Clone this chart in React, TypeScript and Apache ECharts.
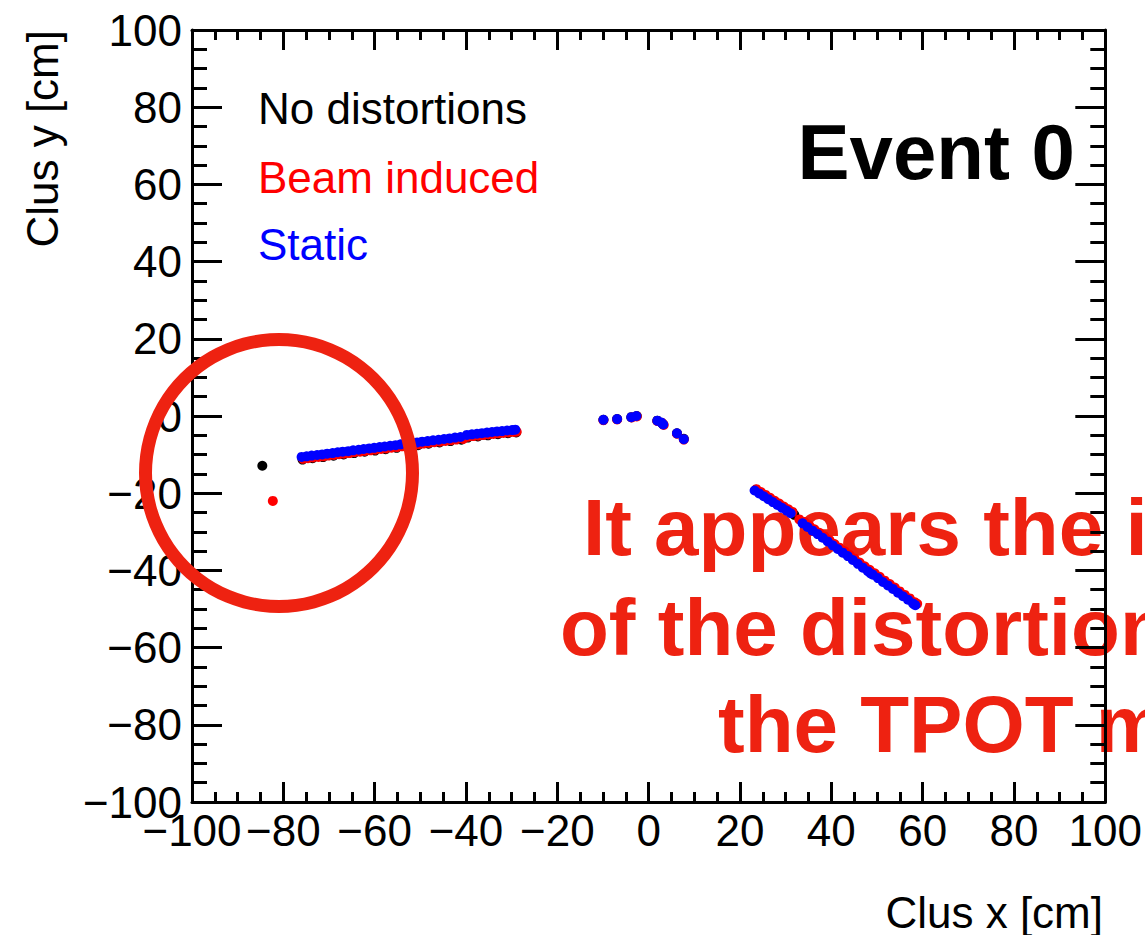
import React, { useEffect, useRef } from "react";
import * as echarts from "echarts";

// ---------------- data ----------------
const X_MIN = -100;
const X_MAX = 100;
const Y_MIN = -100;
const Y_MAX = 100;
const MAJOR_STEP = 20;

const X_TITLE = "Clus x [cm]";
const Y_TITLE = "Clus y [cm]";
const LEGEND_LABELS = ["No distortions", "Beam induced", "Static"];
const SERIES_COLORS = ["#000000", "#ff0000", "#0000ff"];
const EVENT_LABEL = "Event 0";
const NOTE_LINES = ["It appears the i", "of the distortion", "the TPOT m"];

// No distortions (black)
const noDistortions: number[][] = [
  [-84.6, -12.9],
  [-75.8, -11.3], [-73.6, -10.95], [-71.3, -10.65], [-69.0, -10.3], [-66.8, -9.95],
  [-64.5, -9.6], [-62.2, -9.25], [-59.9, -8.95], [-57.6, -8.6], [-55.2, -8.25],
  [-52.9, -7.9], [-50.5, -7.55], [-48.2, -7.2], [-45.8, -6.85], [-43.4, -6.5],
  [-41.0, -6.15], [-39.6, -5.6], [-37.4, -5.3], [-35.2, -5.0], [-33.0, -4.7],
  [-30.8, -4.45], [-29.0, -4.25],
  [-9.9, -1.0], [-6.9, -0.8], [-3.8, -0.3], [-2.6, 0.0], [1.9, -1.2], [3.1, -2.1],
  [6.2, -4.5], [7.7, -5.9],
  [23.5, -19.1], [25.5, -20.6], [27.5, -22.1], [29.5, -23.6], [31.5, -25.0],
  [31.9, -25.6], [34.0, -27.6], [36.2, -29.5], [38.4, -31.35], [40.6, -33.3],
  [42.8, -35.2], [45.0, -37.1], [47.2, -39.1], [49.4, -40.9], [51.6, -42.8],
  [53.8, -44.6], [56.0, -46.5], [58.2, -48.4],
];

// Beam induced (red)
const beamInduced: number[][] = [
  [-82.3, -22.0],
  [-75.7, -11.1], [-74.6, -10.95], [-73.5, -10.75], [-72.3, -10.6], [-71.2, -10.45],
  [-70.1, -10.25], [-68.9, -10.1], [-67.8, -9.9], [-66.7, -9.75], [-65.5, -9.6],
  [-64.4, -9.4], [-63.2, -9.25], [-62.1, -9.05], [-60.9, -8.9], [-59.8, -8.75],
  [-58.6, -8.55], [-57.5, -8.4], [-56.3, -8.2], [-55.1, -8.05], [-54.0, -7.85],
  [-52.8, -7.7], [-51.6, -7.5], [-50.4, -7.35], [-49.3, -7.15], [-48.1, -7.0],
  [-46.9, -6.8], [-45.7, -6.65], [-44.5, -6.45], [-43.3, -6.3], [-42.1, -6.1],
  [-40.6, -5.95],
  [-39.5, -5.35], [-38.4, -5.2], [-37.3, -5.1], [-36.2, -4.95], [-35.1, -4.8],
  [-34.0, -4.65], [-32.9, -4.5], [-31.8, -4.4], [-30.7, -4.25], [-29.6, -4.15],
  [-28.9, -4.05],
  [-9.9, -1.1], [-6.9, -0.9], [-3.7, -0.4], [-2.6, -0.1], [1.9, -1.3], [2.9, -1.8],
  [3.3, -2.3], [6.2, -4.6], [7.7, -6.1],
  [23.6, -18.95], [24.6, -19.7], [25.6, -20.45], [26.6, -21.2], [27.6, -21.95],
  [28.6, -22.7], [29.6, -23.45], [30.6, -24.15], [31.5, -24.85], [33.0, -26.8],
  [34.1, -27.45], [35.2, -28.4], [36.3, -29.35], [37.4, -30.25], [38.5, -31.2],
  [39.6, -32.15], [40.7, -33.15], [41.8, -34.1], [42.9, -35.05], [44.0, -35.95],
  [45.1, -36.95], [46.2, -37.95], [47.3, -38.95], [48.4, -39.85], [49.5, -40.75],
  [50.6, -41.65], [51.7, -42.65], [52.8, -43.55], [53.9, -44.45], [55.0, -45.45],
  [56.1, -46.35], [57.2, -47.25], [58.3, -48.25], [58.8, -48.65],
];

// Static (blue)
const staticDist: number[][] = [
  [-76.0, -10.6], [-74.9, -10.45], [-73.8, -10.25], [-72.6, -10.1], [-71.5, -9.95],
  [-70.4, -9.75], [-69.2, -9.6], [-68.1, -9.4], [-67.0, -9.25], [-65.8, -9.1],
  [-64.7, -8.9], [-63.5, -8.75], [-62.4, -8.55], [-61.2, -8.4], [-60.1, -8.25],
  [-58.9, -8.05], [-57.8, -7.9], [-56.6, -7.7], [-55.4, -7.55], [-54.3, -7.35],
  [-53.1, -7.2], [-51.9, -7.0], [-50.7, -6.85], [-49.6, -6.65], [-48.4, -6.5],
  [-47.2, -6.3], [-46.0, -6.15], [-44.8, -5.95], [-43.6, -5.8], [-42.4, -5.6],
  [-41.2, -5.45],
  [-39.8, -4.9], [-38.7, -4.75], [-37.6, -4.6], [-36.5, -4.45], [-35.4, -4.3],
  [-34.3, -4.15], [-33.2, -4.0], [-32.1, -3.9], [-31.0, -3.75], [-29.9, -3.65],
  [-29.2, -3.55],
  [-9.9, -1.0], [-6.9, -0.8], [-3.8, -0.3], [-2.7, 0.0], [1.9, -1.2], [2.8, -1.7],
  [3.2, -2.2], [6.2, -4.5], [7.7, -6.0],
  [23.2, -19.3], [24.2, -20.05], [25.2, -20.8], [26.2, -21.55], [27.2, -22.3],
  [28.2, -23.05], [29.2, -23.8], [30.2, -24.5], [31.1, -25.2],
  [33.7, -27.8], [34.8, -28.75], [35.9, -29.7], [37.0, -30.6], [38.1, -31.55],
  [39.2, -32.5], [40.3, -33.5], [41.4, -34.45], [42.5, -35.4], [43.6, -36.3],
  [44.7, -37.3], [45.8, -38.3], [46.9, -39.3], [48.0, -40.2], [48.6, -40.8],
  [49.1, -41.1], [50.2, -42.0], [51.3, -43.0], [52.4, -43.9], [53.5, -44.8],
  [54.6, -45.8], [55.7, -46.7], [56.8, -47.6], [57.9, -48.6], [58.4, -49.0],
];

// ---------------- chart ----------------
const FONT = "'Liberation Sans', Arial, Helvetica, sans-serif";
const NOTE_COLOR = "#ee2211";

const fmt = (v: number) => String(v).replace("-", "\u2212");

function xAxisDef(pos: "bottom" | "top") {
  return {
    type: "value",
    position: pos,
    min: X_MIN,
    max: X_MAX,
    interval: MAJOR_STEP,
    z: 5,
    axisLine: { show: true, onZero: false, lineStyle: { color: "#000", width: 3 } },
    axisTick: { show: true, inside: true, length: 20, lineStyle: { color: "#000", width: 3 } },
    minorTick: { show: true, splitNumber: 4, length: 10, lineStyle: { color: "#000", width: 3 } },
    splitLine: { show: false },
    axisLabel: {
      show: pos === "bottom",
      margin: 6,
      fontSize: 44,
      fontFamily: FONT,
      color: "#000",
      showMinLabel: true,
      showMaxLabel: true,
      formatter: fmt,
    },
  };
}

function yAxisDef(pos: "left" | "right") {
  return {
    type: "value",
    position: pos,
    min: Y_MIN,
    max: Y_MAX,
    interval: MAJOR_STEP,
    z: 5,
    axisLine: { show: true, onZero: false, lineStyle: { color: "#000", width: 3 } },
    axisTick: { show: true, inside: true, length: 30, lineStyle: { color: "#000", width: 3 } },
    minorTick: { show: true, splitNumber: 4, length: 15, lineStyle: { color: "#000", width: 3 } },
    splitLine: { show: false },
    axisLabel: {
      show: pos === "left",
      margin: 10,
      fontSize: 44,
      fontFamily: FONT,
      color: "#000",
      showMinLabel: true,
      showMaxLabel: true,
      formatter: fmt,
    },
  };
}

export default function App() {
  const ref = useRef<HTMLDivElement>(null);

  useEffect(() => {
    if (!ref.current) return;
    const chart = echarts.init(ref.current, undefined, { renderer: "svg" });
    const seriesData = [noDistortions, beamInduced, staticDist];

    const option: any = {
      animation: false,
      backgroundColor: "#ffffff",
      grid: { left: 192, right: 36, top: 30, bottom: 133, containLabel: false },
      xAxis: [xAxisDef("bottom"), xAxisDef("top")],
      yAxis: [yAxisDef("left"), yAxisDef("right")],
      series: seriesData.map((d, i) => ({
        type: "scatter",
        name: LEGEND_LABELS[i],
        data: d,
        xAxisIndex: 0,
        yAxisIndex: 0,
        symbol: "circle",
        symbolSize: 10,
        z: 6 + i,
        itemStyle: { color: SERIES_COLORS[i], borderWidth: 0, opacity: 1 },
        emphasis: { disabled: true },
      })),
      graphic: [
        // annotation text (under the axes)
        ...NOTE_LINES.map((t, i) => ({
          type: "text",
          z: 1,
          x: [583, 560, 718][i],
          y: [527, 627, 724][i],
          style: {
            text: t,
            fill: NOTE_COLOR,
            font: `bold 80px ${FONT}`,
            align: "left",
            verticalAlign: "middle",
          },
        })),
        {
          type: "ring",
          z: 20,
          shape: { cx: 279, cy: 473, r: 140, r0: 127 },
          style: { fill: NOTE_COLOR },
        },
        ...LEGEND_LABELS.map((t, i) => ({
          type: "text",
          z: 20,
          x: 258,
          y: [108, 177, 244][i],
          style: {
            text: t,
            fill: SERIES_COLORS[i],
            font: `44px ${FONT}`,
            align: "left",
            verticalAlign: "middle",
          },
        })),
        {
          type: "text",
          z: 20,
          x: 1075,
          y: 152,
          style: {
            text: EVENT_LABEL,
            fill: "#000",
            font: `bold 78px ${FONT}`,
            align: "right",
            verticalAlign: "middle",
          },
        },
        {
          type: "text",
          z: 20,
          x: 1103,
          y: 912,
          style: {
            text: X_TITLE,
            fill: "#000",
            font: `44px ${FONT}`,
            align: "right",
            verticalAlign: "middle",
          },
        },
        {
          type: "text",
          z: 20,
          x: 42,
          y: 30,
          rotation: Math.PI / 2,
          style: {
            text: Y_TITLE,
            fill: "#000",
            font: `44px ${FONT}`,
            align: "right",
            verticalAlign: "middle",
          },
        },
      ],
    };
    chart.setOption(option);
    return () => chart.dispose();
  }, []);

  return (
    <div
      ref={ref}
      style={{ position: "fixed", left: 0, top: 0, width: 1145, height: 935, background: "#fff" }}
    />
  );
}
